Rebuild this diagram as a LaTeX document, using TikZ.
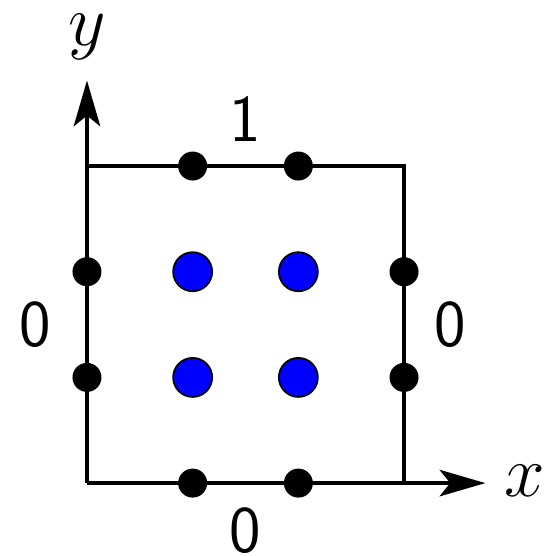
\documentclass[tikz,border=0pt]{standalone}
\usepackage{tikz}
\usetikzlibrary{arrows.meta}
\definecolor{ptblue}{RGB}{0,0,255}

\begin{document}
\begin{tikzpicture}[x=1.0567cm,y=1.0567cm,line width=1.3pt,
    bdot/.style={circle,fill=black,inner sep=0pt,minimum size=0.29cm},
    qdot/.style={circle,draw=black,line width=0.5pt,fill=ptblue,inner sep=0pt,minimum size=0.39cm},
    lab/.style={font=\fontsize{19}{22}\sffamily}]
  \useasboundingbox (-0.823,-0.681) rectangle (4.476,4.571);
  % axes
  \coordinate (O) at (0,0);
  \coordinate (xend) at (3.77,0);
  \coordinate (yend) at (0,3.81);
  \draw[-{Stealth[length=13pt,width=7.5pt,inset=3pt]}] (O) -- (xend);
  \draw[-{Stealth[length=13pt,width=7.5pt,inset=3pt]}] (O) -- (yend);
  \node (xl) at (4.14,0.02) {\fontsize{20}{22}\selectfont $x$};
  \node (yl) at (0,4.22) {\fontsize{20}{22}\selectfont $y$};
  % box
  \coordinate (br) at (3,0);
  \coordinate (tr) at (3,3);
  \coordinate (tl) at (0,3);
  \draw (br) -- (tr) -- (tl);
  % boundary points
  \foreach \i in {1,2} {
    \node[bdot] (b\i) at (\i,0) {};
    \node[bdot] (t\i) at (\i,3) {};
    \node[bdot] (l\i) at (0,\i) {};
    \node[bdot] (r\i) at (3,\i) {};
  }
  % interior points
  \foreach \i in {1,2} {
    \foreach \j in {1,2} {
      \node[qdot] (q\i\j) at (\i,\j) {};
    }
  }
  % boundary values
  \node[lab] (vt) at (1.5,3.44) {1};
  \node[lab] (vl) at (-0.49,1.5) {0};
  \node[lab] (vr) at (3.44,1.5) {0};
  \node[lab] (vb) at (1.5,-0.445) {0};
\end{tikzpicture}
\end{document}
